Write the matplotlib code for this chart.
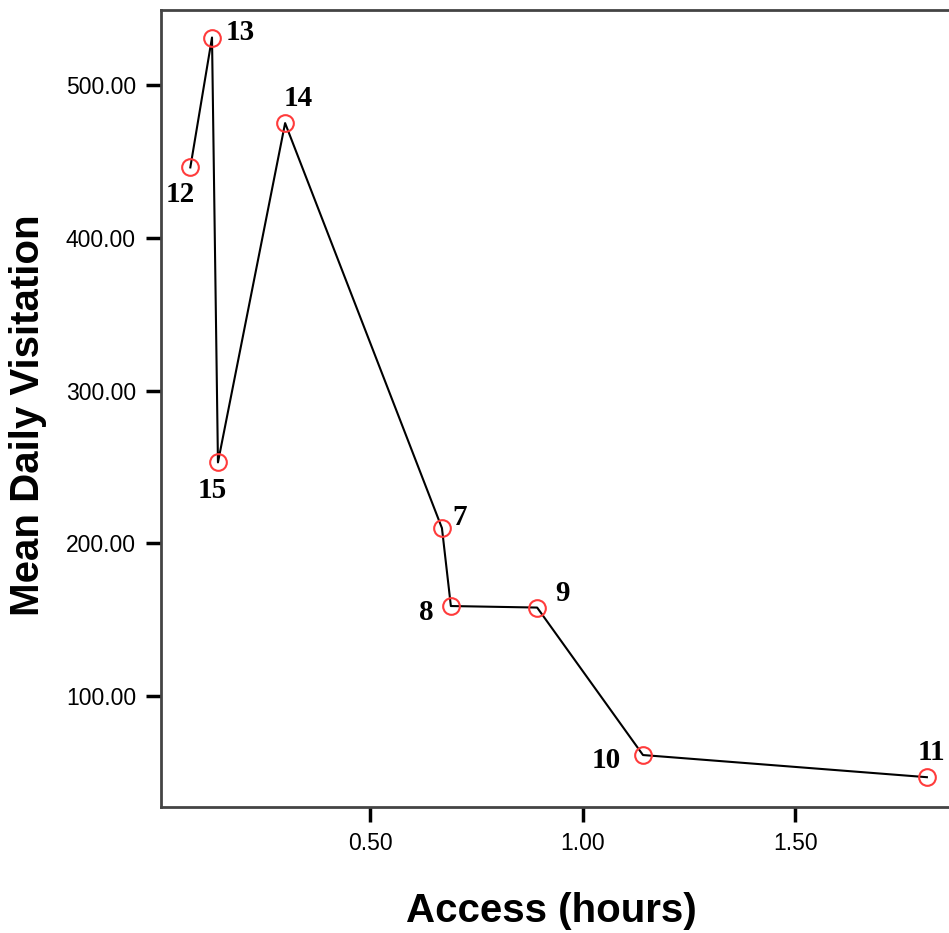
import matplotlib
matplotlib.use("Agg")
import matplotlib.pyplot as plt

# site ids, access time (hours), mean daily visitation
sites = ["12", "13", "15", "14", "7", "8", "9", "10", "11"]
access = [0.077, 0.128, 0.142, 0.300, 0.669, 0.690, 0.893, 1.142, 1.810]
visits = [446, 531, 253, 475, 210, 159, 158, 61.5, 47]
label_offsets = [(-10, -27), (28, 5), (-6, -28), (13, 25), (18, 11),
                 (-25, -6), (25, 14), (-37, -5), (5, 25)]

xticks = [0.5, 1.0, 1.5]
yticks = [100, 200, 300, 400, 500]

fig = plt.figure(figsize=(9.49, 9.33), dpi=100)
ax = fig.add_axes([161 / 949, 126 / 933, 1 - 161 / 949, 797 / 933])

ax.plot(access, visits, color="black", lw=1.5, zorder=2)
ax.plot(access, visits, ls="none", marker="o", ms=12, mfc="none",
        mec="#ff3b3b", mew=1.5, zorder=3)

for s, x, y, off in zip(sites, access, visits, label_offsets):
    ax.annotate(s, (x, y), xytext=off, textcoords="offset pixels",
                ha="center", va="center", fontsize=21, fontweight="bold",
                family="Liberation Serif")

ax.set_xlim(0.008, 1.862)
ax.set_ylim(27.5, 549)
ax.set_xticks(xticks)
ax.set_xticklabels(["%.2f" % t for t in xticks])
ax.set_yticks(yticks)
ax.set_yticklabels(["%.2f" % t for t in yticks])

for side in ["left", "bottom", "top"]:
    ax.spines[side].set_linewidth(2)
    ax.spines[side].set_color("#444444")
ax.spines["right"].set_visible(False)

ax.tick_params(direction="out", length=11, width=2.5, labelsize=16.5, pad=7,
               colors="black")
for lbl in ax.get_xticklabels() + ax.get_yticklabels():
    lbl.set_family("Liberation Sans")

ax.set_xlabel("Access (hours)", fontsize=29, fontweight="bold",
              family="Liberation Sans", va="center")
ax.set_ylabel("Mean Daily Visitation", fontsize=29, fontweight="bold",
              family="Liberation Sans", va="center")
ax.xaxis.set_label_coords(0.495, -0.131)
ax.yaxis.set_label_coords(-0.169, 0.492)

fig.savefig("out.png", dpi=100)
